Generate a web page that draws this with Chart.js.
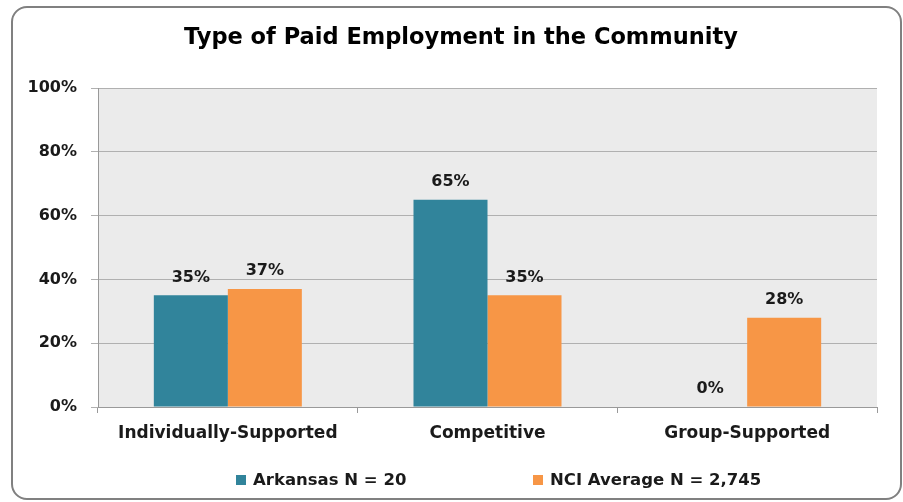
<!DOCTYPE html>
<html>
<head>
<meta charset="utf-8">
<script src="https://cdn.jsdelivr.net/npm/chart.js@4"></script>
<style>
  html, body { margin: 0; padding: 0; background: #fff; }
  #wrap { position: relative; width: 903px; height: 502px; overflow: hidden; }
  #frame {
    position: absolute; left: 11px; top: 6px; width: 891px; height: 494px;
    border: 2px solid #808080; border-radius: 16px; box-sizing: border-box;
  }
  canvas { position: absolute; left: 0; top: 0; }
  #title {
    position: absolute; top: 23px; left: 261px; width: 400px; text-align: center;
    white-space: nowrap; line-height: 28px; overflow: visible;
    font: bold 22.5px "DejaVu Sans", sans-serif; color: #000;
  }
  #title span { display: inline-block; margin: 0 -200px; }
  #legend {
    position: absolute; top: 469px; left: 0; width: 903px; height: 22px;
    font: bold 16.5px "DejaVu Sans", sans-serif; color: #1a1a1a;
  }
  .item { position: absolute; top: 0; white-space: nowrap; line-height: 22px; }
  .swatch { display: inline-block; width: 10px; height: 10px; margin-right: 7px; vertical-align: 0px; }
</style>
</head>
<body>
<div id="wrap">
  <div id="frame"></div>
  <canvas id="bar-chart" width="903" height="502"></canvas>
  <div id="title"><span>Type of Paid Employment in the Community</span></div>
  <div id="legend"></div>
</div>
<script>
const categories = ["Individually-Supported", "Competitive", "Group-Supported"];
const arkansas = [35, 65, 0];
const nciAverage = [37, 35, 28];
const seriesNames = ["Arkansas N = 20", "NCI Average N = 2,745"];
const tickLabels = ["0%", "20%", "40%", "60%", "80%", "100%"];

const colors = ["#31849B", "#F79646"];
const fontFamily = "'DejaVu Sans', sans-serif";

// gray plot area behind the bars
const plotBackground = {
  id: "plotBackground",
  beforeDraw(chart) {
    const { ctx, chartArea } = chart;
    ctx.save();
    ctx.fillStyle = "#ebebeb";
    ctx.fillRect(chartArea.left, chartArea.top, chartArea.right - chartArea.left, chartArea.bottom - chartArea.top);
    ctx.restore();
  }
};

// value labels above each bar
const valueLabels = {
  id: "valueLabels",
  afterDatasetsDraw(chart) {
    const ctx = chart.ctx;
    ctx.save();
    ctx.font = "bold 16px " + fontFamily;
    ctx.fillStyle = "#1a1a1a";
    ctx.textAlign = "center";
    ctx.textBaseline = "middle";
    chart.data.datasets.forEach((ds, i) => {
      chart.getDatasetMeta(i).data.forEach((bar, j) => {
        ctx.fillText(ds.data[j] + "%", bar.x, bar.y - 18);
      });
    });
    ctx.restore();
  }
};

const config = {
  type: "bar",
  data: {
    labels: categories,
    datasets: [
      { label: seriesNames[0], data: arkansas, backgroundColor: colors[0], borderWidth: 0 },
      { label: seriesNames[1], data: nciAverage, backgroundColor: colors[1], borderWidth: 0 }
    ]
  },
  options: {
    responsive: false,
    animation: false,
    devicePixelRatio: 1,
    layout: { padding: { left: 12, right: 26, top: 88, bottom: 0 } },
    datasets: { bar: { categoryPercentage: 0.57, barPercentage: 1.0 } },
    plugins: {
      legend: { display: false },
      tooltip: { enabled: false },
      title: { display: false }
    },
    scales: {
      x: {
        grid: { drawOnChartArea: false, color: "#999", tickLength: 6, offset: true },
        border: { color: "#999" },
        ticks: { color: "#1a1a1a", padding: 10, font: { family: fontFamily, size: 17, weight: "bold" } },
        afterFit(scale) { scale.height = 95; }
      },
      y: {
        min: 0,
        max: 100,
        ticks: {
          stepSize: 20,
          padding: 14,
          color: "#1a1a1a",
          font: { family: fontFamily, size: 16, weight: "bold" },
          callback: (v) => tickLabels[v / 20]
        },
        grid: { color: "#b0b0b0", tickLength: 7 },
        border: { color: "#999" },
        afterFit(scale) { scale.width = 86; }
      }
    }
  },
  plugins: [plotBackground, valueLabels]
};

new Chart(document.getElementById("bar-chart").getContext("2d"), config);

// HTML legend
const legendPos = [236, 533];
const legend = document.getElementById("legend");
seriesNames.forEach((name, i) => {
  const item = document.createElement("div");
  item.className = "item";
  item.style.left = legendPos[i] + "px";
  item.innerHTML = '<span class="swatch" style="background:' + colors[i] + '"></span>' + name;
  legend.appendChild(item);
});
</script>
</body>
</html>
